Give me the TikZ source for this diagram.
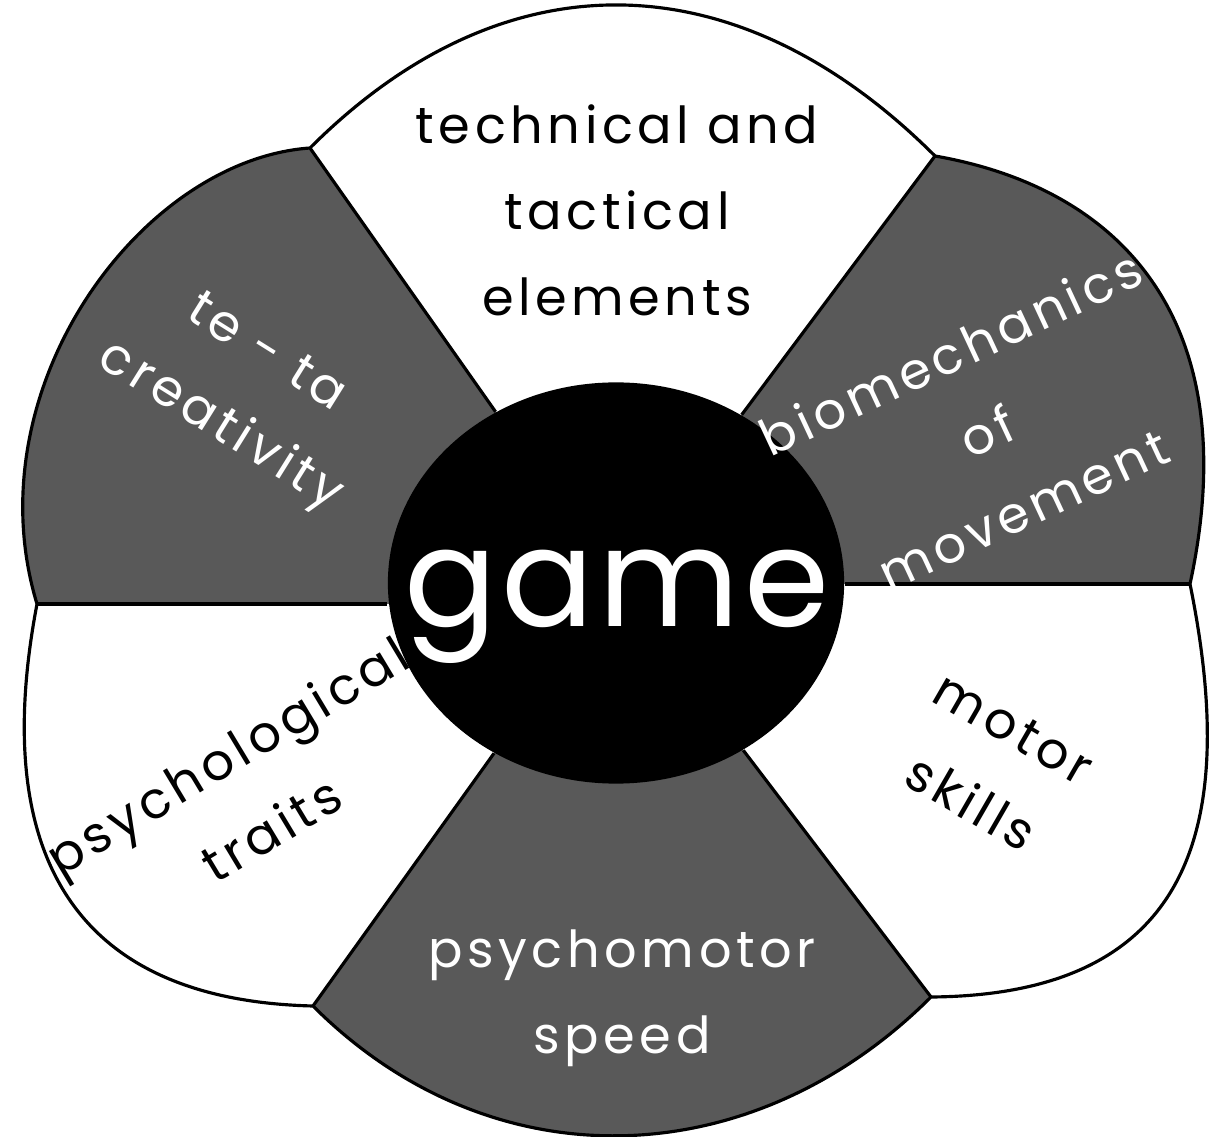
\documentclass[tikz,border=0pt]{standalone}
\usepackage{fontspec}
\setmainfont{Poppins}[LetterSpace=9]
\usetikzlibrary{shapes.geometric}
\definecolor{petaldark}{HTML}{595959}

\begin{document}
\begin{tikzpicture}[x=0.01cm, y=-0.01cm,
  rim/.style={line width=0.9pt, black},
  spoke/.style={line width=0.9pt, black},
  hub/.style={ellipse, fill=black, inner sep=0pt, minimum width=4.56cm, minimum height=4.01cm},
  petaltext/.style={align=center, font=\fontsize{14.5}{24.5}\selectfont}]
\useasboundingbox (0,0) rectangle (1212,1137);
\fill[white] (0,0) rectangle (1212,1137);

% corners where the petals meet, and the middle
\coordinate (v1) at (310,148);
\coordinate (v2) at (935,156);
\coordinate (v3) at (1190,584);
\coordinate (v4) at (931,997);
\coordinate (v5) at (313,1006);
\coordinate (v6) at (37,604);
\coordinate (mid) at (616,583);

% dark petals
\fill[petaldark] (v6) .. controls (-28,390) and (140,160) .. (v1)
  -- (mid) -- (v6 -| mid) -- cycle;
\fill[petaldark] (v2) .. controls (1130,190) and (1245,330) .. (v3)
  -- (v3 -| mid) -- (mid) -- cycle;
\fill[petaldark] (v4) .. controls (752,1176) and (492,1185) .. (v5)
  -- (mid) -- cycle;

% outer rim
\draw[rim] (v1) .. controls (506,-48) and (739,-40) .. (v2)
  .. controls (1130,190) and (1245,330) .. (v3)
  .. controls (1240,830) and (1190,995) .. (v4)
  .. controls (752,1176) and (492,1185) .. (v5)
  .. controls (62,1000) and (-8,840) .. (v6)
  .. controls (-28,390) and (140,160) .. (v1);

% centre
\node[hub] (game) at (mid) {};
\node[white, anchor=base, font=\fontsize{39}{39}\selectfont\addfontfeature{LetterSpace=3}] (gamelbl) at (617,627) {game};

% spokes
\foreach \v in {v1,v2,v4,v5}
  \draw[spoke] (\v) -- (game);
\draw[spoke] (v6) -- (v6 -| game.west);
\draw[spoke] (v3) -- (v3 -| game.east);

% labels
\node[petaltext] (tactic) at (617,210) {technical and\\tactical\\elements};
\node[petaltext, white, rotate=-32] (creat) at (242,392) {te - ta\\creativity};
\node[petaltext, white, rotate=25] (biomech) at (987,431) {biomechanics\\of\\movement};
\node[petaltext, rotate=-30] (motor) at (992,766) {motor\\skills};
\node[petaltext, white] (speed) at (622,998) {psychomotor\\speed};
\node[petaltext, rotate=31] (psych) at (249,792) {psychological\\traits};
\end{tikzpicture}
\end{document}
